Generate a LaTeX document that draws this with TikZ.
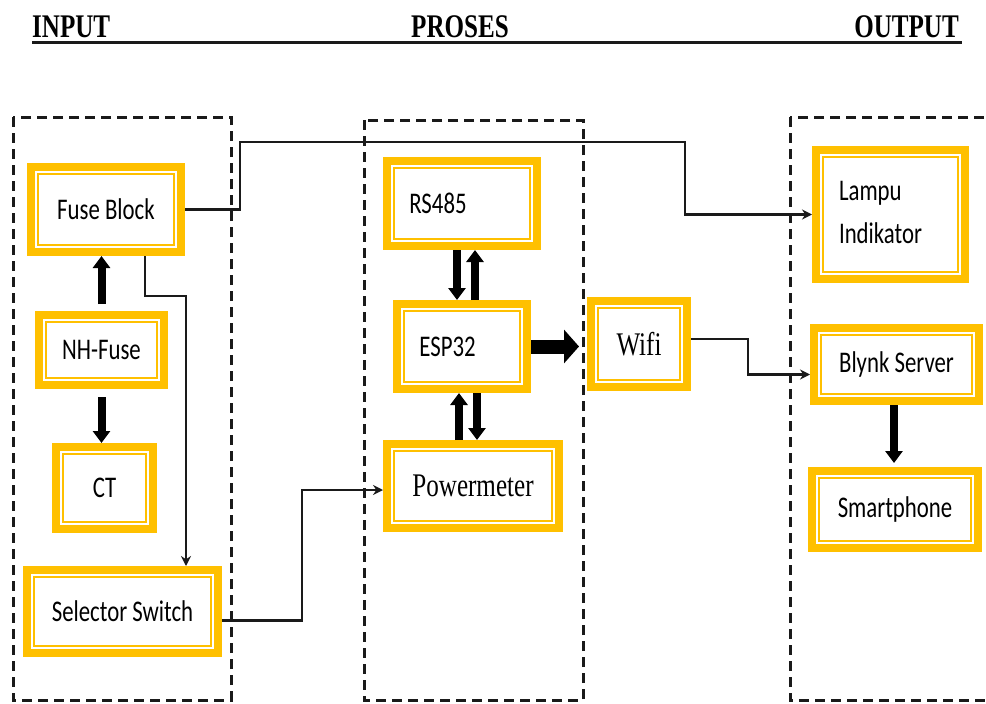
\documentclass[tikz,border=0pt]{standalone}
\usepackage{fontspec}
\usepackage{graphicx}
\setmainfont{Carlito}
\newfontfamily\hurufserif{Liberation Serif}
\usetikzlibrary{arrows.meta}
\definecolor{emas}{HTML}{FFC000}
\definecolor{garis}{HTML}{1A1A1A}
\newcommand{\sempit}[1]{\scalebox{0.76}[1]{#1}}
\begin{document}
\begin{tikzpicture}[x=1pt,y=-1pt,
    blok/.style={draw=emas, line width=8pt, fill=white, inner sep=0pt,
        font=\fontsize{30}{36}\selectfont,
        path picture={\draw[emas, line width=2pt]
            ([shift={(7pt,7pt)}]path picture bounding box.south west) rectangle
            ([shift={(-7pt,-7pt)}]path picture bounding box.north east);}},
    kotak/.style={garis, line width=3pt, dash pattern=on 10pt off 6pt},
    kabel/.style={garis, line width=2.7pt, -{Stealth[length=10pt,width=10pt]}},
    panah/.style={black, line width=8pt, -{Triangle[length=12pt,width=17pt]}},
    kepala/.style={font=\hurufserif\bfseries\fontsize{33}{40}\selectfont, inner sep=0pt}]
    \useasboundingbox (0,0) rectangle (986,704);

    % Judul kolom
    \node[kepala, anchor=base west] (input) at (32,37) {\sempit{INPUT}};
    \node[kepala, anchor=base] (proses) at (460,37) {\sempit{PROSES}};
    \node[kepala, anchor=base east] (output) at (959,37) {\sempit{OUTPUT}};
    \draw[garis, line width=3pt] (32,42) -- (962,42);

    % Kotak putus-putus
    \draw[kotak] (13,117) rectangle (231,700);
    \draw[kotak] (364,120) rectangle (583,700);
    \draw[kotak] (790,117) rectangle (1000,700);

    % Blok input
    \node[blok, minimum width=150pt, minimum height=85pt] (fuse) at (106,209.5) {\sempit{Fuse Block}};
    \node[blok, minimum width=125pt, minimum height=70pt] (nhfuse) at (101.5,350) {\sempit{NH-Fuse}};
    \node[blok, minimum width=97pt, minimum height=82pt] (ct) at (104.5,488) {\sempit{CT}};
    \node[blok, minimum width=191pt, minimum height=83pt] (selektor) at (122.5,611.5) {\sempit{Selector Switch}};

    % Blok proses
    \node[blok, minimum width=150pt, minimum height=85pt] (rs485) at (462,203.5) {\hspace*{-48pt}\sempit{RS485}};
    \node[blok, minimum width=130pt, minimum height=85pt] (esp) at (462,346.5) {\hspace*{-29pt}\sempit{ESP32}};
    \node[blok, minimum width=96pt, minimum height=86pt, font=\hurufserif\fontsize{33}{40}\selectfont] (wifi) at (639,344) {\sempit{Wifi}};
    \node[blok, minimum width=172pt, minimum height=84pt, font=\hurufserif\fontsize{33}{40}\selectfont] (pm) at (473,486) {\sempit{Powermeter}};

    % Blok output
    \node[blok, minimum width=149pt, minimum height=129pt] (lampu) at (890.5,214.5)
        {\hspace*{-20pt}\sempit{\begin{tabular}{@{}l@{}}Lampu\\[7pt]Indikator\end{tabular}}};
    \node[blok, minimum width=165pt, minimum height=73pt] (blynk) at (896.5,364.5) {\sempit{Blynk Server}};
    \node[blok, minimum width=166pt, minimum height=77pt] (hp) at (895,509.5) {\sempit{Smartphone}};

    % Jalur kabel
    \draw[kabel] (fuse.east) -- (fuse.east -| 240,142) |- (685,142) |- (lampu.west);
    \draw[kabel] ([xshift=39pt]fuse.south) |- (186,296) -- (186,296 |- selektor.north);
    \draw[kabel] ([yshift=-9pt]selektor.east) -- ++(80,0) |- ([yshift=-4pt]pm.west);
    \draw[kabel] ([yshift=5pt]wifi.east) -- ++(57,0) |- ([yshift=-10pt]blynk.west);

    % Panah tebal
    \draw[panah, shorten <=7pt] (nhfuse.north) -- (nhfuse.north |- fuse.south);
    \draw[panah, shorten <=8pt] (nhfuse.south) -- (nhfuse.south |- ct.north);
    \draw[panah, transform canvas={xshift=-5pt}] (rs485.south) -- (rs485.south |- esp.north);
    \draw[panah, transform canvas={xshift=13pt}] (esp.north) -- (esp.north |- rs485.south);
    \draw[panah, transform canvas={xshift=-3pt}] (esp.south |- pm.north) -- (esp.south);
    \draw[panah, transform canvas={xshift=15pt}] (esp.south) -- (esp.south |- pm.north);
    \draw[panah, line width=14pt, -{Triangle[length=15pt,width=33pt]}, shorten >=8pt]
        (esp.east) -- (wifi.west |- esp.east);
    \draw[panah, shorten >=4pt, transform canvas={xshift=-2.5pt}] (blynk.south) -- (blynk.south |- hp.north);
\end{tikzpicture}
\end{document}
